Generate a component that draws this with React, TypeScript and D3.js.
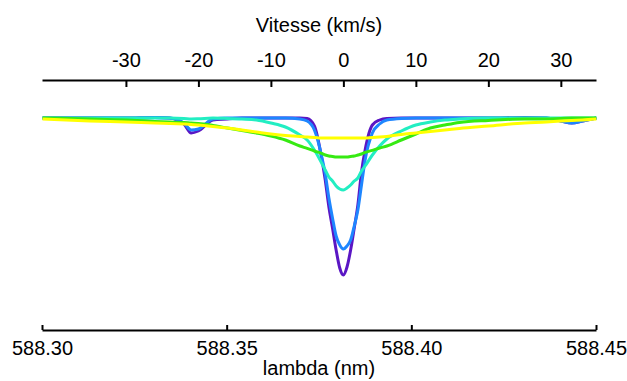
import React, { Component } from "react";
import * as d3 from "d3";

// velocity grid (km/s) shared by every profile
const velocities = [
   -41.5, -35, -30, -26, -24, -22, -21, -20, -18, -16, -14, -12, -10, -8, -6, -5, -4, -3, -2.5, -2, -1.5,
   -1, -0.5, 0, 0.5, 1, 1.5, 2, 2.5, 3, 4, 5, 6, 8, 10, 12, 14, 16, 20, 25, 28, 30, 31.5, 33, 34.9,
];

// normalised flux
const violet = [
   1.0, 1.0, 1.0, 1.003, 1.0, 0.97, 0.925, 0.935, 0.99, 0.995, 1.0, 1.0, 1.0, 1.0, 1.0, 0.997, 0.96, 0.8, 0.69,
   0.555, 0.45, 0.34, 0.25, 0.215, 0.255, 0.34, 0.45, 0.565, 0.73, 0.84, 0.965, 0.99, 0.998, 1.0, 1.0, 1.0, 1.0,
   1.0, 1.0, 1.003, 1.0, 0.985, 0.975, 0.985, 1.0,
];
const blue = [
   1.0, 1.0, 1.0, 1.003, 1.0, 0.975, 0.94, 0.945, 0.995, 1.0, 1.0, 1.0, 1.0, 1.0, 0.995, 0.985, 0.94, 0.81, 0.72,
   0.6, 0.5, 0.41, 0.365, 0.345, 0.36, 0.39, 0.46, 0.54, 0.665, 0.79, 0.925, 0.97, 0.99, 0.998, 1.0, 1.0, 1.0,
   1.0, 1.0, 1.0, 1.0, 0.985, 0.975, 0.985, 1.0,
];
const cyan = [
   1.0, 1.0, 1.0, 1.0, 1.0, 0.998, 0.995, 0.996, 1.0, 0.998, 0.995, 0.99, 0.975, 0.955, 0.915, 0.89, 0.84, 0.775,
   0.74, 0.705, 0.685, 0.66, 0.645, 0.64, 0.65, 0.665, 0.685, 0.7, 0.735, 0.76, 0.815, 0.86, 0.895, 0.935, 0.965,
   0.98, 0.99, 0.995, 1.0, 1.0, 1.0, 1.0, 1.0, 1.0, 1.0,
];
const green = [
   1.0, 0.995, 0.99, 0.983, 0.98, 0.978, 0.975, 0.973, 0.963, 0.95, 0.938, 0.925, 0.91, 0.89, 0.86, 0.848, 0.835,
   0.823, 0.815, 0.81, 0.808, 0.805, 0.805, 0.805, 0.805, 0.808, 0.81, 0.815, 0.82, 0.828, 0.838, 0.85, 0.86, 0.89,
   0.92, 0.95, 0.965, 0.978, 0.988, 0.995, 0.995, 0.998, 1.0, 1.0, 1.0,
];
const yellow = [
   0.995, 0.985, 0.98, 0.975, 0.973, 0.97, 0.968, 0.965, 0.958, 0.95, 0.94, 0.93, 0.92, 0.913, 0.908, 0.905,
   0.903, 0.9, 0.9, 0.9, 0.9, 0.9, 0.9, 0.9, 0.9, 0.9, 0.9, 0.9, 0.9, 0.9, 0.903, 0.905, 0.908, 0.918, 0.925,
   0.933, 0.94, 0.948, 0.96, 0.975, 0.98, 0.985, 0.988, 0.99, 0.995,
];

const seriesColors = ["#5a16c4", "#1e86ff", "#22eec2", "#36ea12", "#ffff00"];
const lambdaTicks = [588.3, 588.35, 588.4, 588.45];
const speedTicks = [-30, -20, -10, 0, 10, 20, 30];
const lambda0 = 588.3816;
const lightSpeed = 299792.458;

class App extends Component {
   svgRef = React.createRef<SVGSVGElement>();

   componentDidMount() {
      this.drawChart();
   }

   drawChart() {
      const svg = d3.select(this.svgRef.current);
      svg.selectAll("*").remove();
      const font = "'Liberation Sans', Arial, sans-serif";

      const left = 42;
      const right = 596;
      const bottomY = 330;
      const topY = 80;

      // wavelength axis (bottom)
      const x = d3.scaleLinear().domain([588.3, 588.45]).range([left, right]);
      // velocity axis (top), same pixels
      const toV = (l) => (lightSpeed * (l - lambda0)) / lambda0;
      const xv = d3.scaleLinear().domain([toV(588.3), toV(588.45)]).range([left, right]);
      const y = d3.scaleLinear().domain([0, 1]).range([318, 118]);

      const bottomAxis = svg
         .append("g")
         .attr("transform", "translate(0," + bottomY + ")")
         .call(
            d3.axisTop(x)
               .tickValues(lambdaTicks)
               .tickSize(5)
               .tickSizeOuter(0)
               .tickFormat(d3.format(".2f"))
         );
      bottomAxis.select(".domain").attr("stroke-width", 2);
      bottomAxis.selectAll(".tick line").attr("stroke-width", 2);
      bottomAxis
         .selectAll(".tick text")
         .attr("y", 25)
         .attr("dy", 0)
         .attr("font-family", font)
         .attr("font-size", 20)
         .attr("fill", "#000");

      const topAxis = svg
         .append("g")
         .attr("transform", "translate(0," + topY + ")")
         .call(d3.axisBottom(xv).tickValues(speedTicks).tickSize(7).tickSizeOuter(0).tickFormat(d3.format("d")));
      topAxis.select(".domain").attr("stroke-width", 2);
      topAxis.selectAll(".tick line").attr("stroke-width", 2);
      topAxis
         .selectAll(".tick text")
         .attr("y", -13)
         .attr("dy", 0)
         .attr("font-family", font)
         .attr("font-size", 20)
         .attr("fill", "#000")
         .text((d) => String(d).replace("\u2212", "-"));

      svg.append("text")
         .attr("x", (left + right) / 2)
         .attr("y", 32)
         .attr("text-anchor", "middle")
         .attr("font-family", font)
         .attr("font-size", 20)
         .text("Vitesse (km/s)");

      svg.append("text")
         .attr("x", (left + right) / 2)
         .attr("y", 375)
         .attr("text-anchor", "middle")
         .attr("font-family", font)
         .attr("font-size", 20)
         .text("lambda (nm)");

      // profiles
      const line = d3
         .line<[number, number]>()
         .x((d) => x(lambda0 * (1 + d[0] / lightSpeed)))
         .y((d) => y(d[1]))
         .curve(d3.curveMonotoneX);

      [violet, blue, cyan, green, yellow].forEach((flux, i) => {
         svg.append("path")
            .datum(velocities.map((v, j) => [v, flux[j]]))
            .attr("fill", "none")
            .attr("stroke", seriesColors[i])
            .attr("stroke-width", 3)
            .attr("stroke-linejoin", "round")
            .attr("d", line);
      });
   }

   render() {
      return (
         <svg
            ref={this.svgRef}
            width="627"
            height="381"
            style={{ position: "absolute", left: 0, top: 0, background: "#fff" }}
         ></svg>
      );
   }
}

export default App;
